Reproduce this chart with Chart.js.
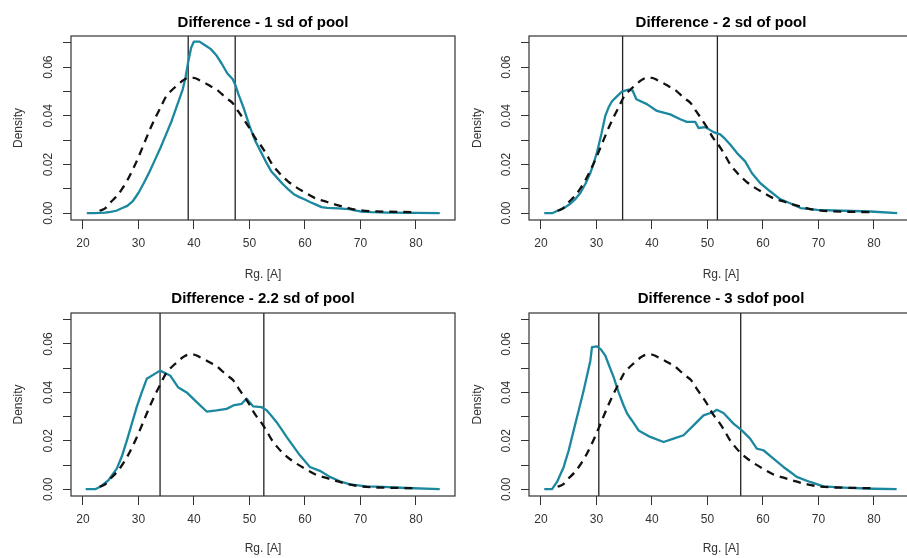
<!DOCTYPE html>
<html>
<head>
<meta charset="utf-8">
<script src="https://cdn.jsdelivr.net/npm/chart.js@4/dist/chart.umd.min.js"></script>
<style>
html,body{margin:0;padding:0;background:#fff;overflow:hidden;}
#wrap{position:relative;width:907px;height:558px;overflow:hidden;background:#fff;}
#wrap canvas{position:absolute;}
</style>
</head>
<body>
<div id="wrap">
<canvas id="c1"></canvas>
<canvas id="c2"></canvas>
<canvas id="c3"></canvas>
<canvas id="c4"></canvas>
</div>
<script>
// ---------- DATA ----------
const titles = ['Difference - 1 sd of pool', 'Difference - 2 sd of pool', 'Difference - 2.2 sd of pool', 'Difference - 3 sdof pool'];
const xAxisLabel = 'Rg. [A]';
const yAxisLabel = 'Density';

const xTickValues = [20, 30, 40, 50, 60, 70, 80];
const xTickLabels = ['20', '30', '40', '50', '60', '70', '80'];
const yTickValues = [0, 0.01, 0.02, 0.03, 0.04, 0.05, 0.06, 0.07];
const yTickLabels = ['0.00', '', '0.02', '', '0.04', '', '0.06', ''];

// pool density (dashed, same in every panel)
const poolX = [23, 24, 25, 26, 27, 28, 29, 30, 31, 32, 33, 34, 35, 36, 37, 38, 39, 40, 41, 42, 43, 44, 45, 46, 47, 48, 49, 50, 51, 52, 53, 54, 55, 56, 57, 58, 60, 62, 64, 66, 68, 70, 72, 75, 80];
const poolY = [0.001, 0.002, 0.0045, 0.0068, 0.0098, 0.0135, 0.018, 0.023, 0.0285, 0.034, 0.039, 0.0435, 0.048, 0.0505, 0.0525, 0.0545, 0.0556, 0.0556, 0.0546, 0.0535, 0.0522, 0.051, 0.049, 0.047, 0.0452, 0.0418, 0.0385, 0.035, 0.031, 0.028, 0.0245, 0.0205, 0.0175, 0.015, 0.013, 0.0113, 0.0085, 0.006, 0.0046, 0.0032, 0.002, 0.0012, 0.0008, 0.0006, 0.0004];

// selected-subset densities (teal)
const sd1X = [20.7, 22, 24, 25, 26, 27, 28, 29, 30, 31, 32, 33, 34, 35, 36, 37, 38, 38.5, 39, 39.5, 40, 41, 42, 43, 44, 45, 46, 47, 47.5, 48, 49, 50, 51, 52, 53, 54, 55, 56, 57, 58, 59, 60, 61, 62, 63, 64, 66, 68, 69, 70, 72, 75, 80, 84.3];
const sd1Y = [0, 0, 0.0002, 0.0005, 0.001, 0.002, 0.003, 0.005, 0.0083, 0.0125, 0.017, 0.022, 0.027, 0.0325, 0.038, 0.0445, 0.051, 0.056, 0.0625, 0.068, 0.0705, 0.0705, 0.069, 0.0675, 0.065, 0.0615, 0.0575, 0.055, 0.0525, 0.049, 0.043, 0.036, 0.030, 0.0255, 0.021, 0.017, 0.0145, 0.012, 0.0098, 0.0078, 0.0066, 0.0056, 0.0045, 0.0035, 0.0025, 0.0022, 0.002, 0.0017, 0.0012, 0.0007, 0.0004, 0.0002, 0.0001, 0];

const sd2X = [20.6, 22, 23.4, 24.4, 25.3, 26.2, 27.1, 28, 28.9, 29.5, 30.1, 30.9, 31.6, 32.2, 32.8, 33.7, 34.6, 35.8, 36.5, 37.2, 39.1, 40.9, 43.3, 45.1, 46.3, 47.8, 48.4, 49.6, 51.1, 52.3, 53.2, 54.1, 55.3, 56.8, 58, 59.5, 61.3, 63.1, 64.9, 66.8, 69.8, 72.8, 79.4, 84.2];
const sd2Y = [0, 0, 0.0014, 0.0025, 0.0039, 0.0058, 0.0083, 0.012, 0.0165, 0.0205, 0.025, 0.0325, 0.040, 0.0435, 0.046, 0.048, 0.050, 0.0508, 0.0505, 0.0468, 0.0448, 0.042, 0.0406, 0.0386, 0.0375, 0.0375, 0.035, 0.0354, 0.0333, 0.0324, 0.0305, 0.0282, 0.0248, 0.0213, 0.0165, 0.0124, 0.009, 0.0058, 0.0041, 0.0021, 0.0014, 0.0011, 0.0007, 0];

const sd22X = [20.5, 22.2, 23.1, 24.6, 26.1, 27, 27.9, 28.8, 29.7, 30.6, 31.5, 33.9, 35.7, 37.2, 38.7, 40.5, 42.3, 44.1, 45.9, 47.1, 48.6, 49.5, 50.7, 52.2, 53.1, 54, 54.9, 55.8, 56.7, 57.9, 59.1, 60.9, 62.7, 64.5, 66.3, 68.1, 71.1, 74.1, 78.3, 84.3];
const sd22Y = [0, 0, 0.001, 0.0037, 0.0085, 0.0135, 0.020, 0.027, 0.034, 0.040, 0.0456, 0.049, 0.047, 0.042, 0.040, 0.036, 0.0321, 0.0326, 0.0332, 0.0346, 0.0353, 0.0374, 0.0342, 0.0339, 0.0326, 0.0302, 0.0277, 0.0247, 0.0216, 0.0178, 0.014, 0.0092, 0.0076, 0.0051, 0.0033, 0.002, 0.0012, 0.001, 0.0005, 0];

const sd3X = [20.6, 22, 22.9, 24.1, 25, 25.9, 26.8, 27.7, 28.9, 29.2, 30.1, 30.8, 31.6, 32.3, 33.1, 34, 34.9, 35.6, 36.4, 37.6, 39.7, 42.1, 43.9, 45.7, 47.5, 49.3, 51.1, 51.7, 52.9, 54.7, 56.2, 57.7, 58.9, 60.1, 61.9, 63.7, 65, 66.1, 68.5, 70.9, 74.5, 79.9, 84.1];
const sd3Y = [0, 0, 0.003, 0.0092, 0.016, 0.0243, 0.0325, 0.0408, 0.053, 0.0587, 0.059, 0.0578, 0.0552, 0.051, 0.0463, 0.040, 0.0346, 0.031, 0.0284, 0.0243, 0.0216, 0.0195, 0.0209, 0.0223, 0.0264, 0.0305, 0.0319, 0.0328, 0.0315, 0.0271, 0.0243, 0.0209, 0.0168, 0.0161, 0.0126, 0.0092, 0.007, 0.0051, 0.003, 0.0012, 0.0007, 0.0002, 0];

// cut-off positions (vertical lines)
const cutLow = [38.97, 34.72, 33.9, 30.43];
const cutHigh = [47.44, 51.8, 52.6, 56.0];

const xRange = [17.85, 87.05];
const yRange = [-0.0028, 0.0728];

// ---------- LAYOUT ----------
const FONT = "'Liberation Sans', Arial, Helvetica, sans-serif";
const TEAL = '#1b88a0';
const series = [[sd1X, sd1Y], [sd2X, sd2Y], [sd22X, sd22Y], [sd3X, sd3Y]];
const panels = [
  {id: 'c1', left: 0,   top: 0,   w: 460, h: 290, a: {l: 71, t: 36, r: 455, b: 220}, tc: 23.3, xtc: 275,   ytc: 19},
  {id: 'c2', left: 450, top: 0,   w: 470, h: 290, a: {l: 79, t: 36, r: 463, b: 220}, tc: 23.3, xtc: 275,   ytc: 27.3},
  {id: 'c3', left: 0,   top: 280, w: 460, h: 278, a: {l: 71, t: 33, r: 455, b: 216}, tc: 19.3, xtc: 269,   ytc: 18.5},
  {id: 'c4', left: 450, top: 280, w: 470, h: 278, a: {l: 79, t: 33, r: 463, b: 216}, tc: 19.3, xtc: 269,   ytc: 27.3}
];

const pts = (xs, ys) => xs.map((x, i) => ({x: x, y: ys[i]}));

const boxPlugin = {
  id: 'rbox',
  afterDatasetsDraw(chart) {
    const {ctx, chartArea: a} = chart;
    ctx.save();
    ctx.strokeStyle = '#333';
    ctx.lineWidth = 1.2;
    ctx.strokeRect(a.left, a.top, a.right - a.left, a.bottom - a.top);
    ctx.restore();
  }
};

panels.forEach((p, k) => {
  const cv = document.getElementById(p.id);
  cv.width = p.w; cv.height = p.h;
  cv.style.left = p.left + 'px'; cv.style.top = p.top + 'px';
  cv.style.width = p.w + 'px'; cv.style.height = p.h + 'px';

  const [sx, sy] = series[k];
  new Chart(cv, {
    type: 'line',
    data: {
      datasets: [
        {data: pts(poolX, poolY), borderColor: '#111', borderWidth: 2.3, borderDash: [8, 6], pointRadius: 0, cubicInterpolationMode: 'monotone', fill: false},
        {data: pts(sx, sy), borderColor: TEAL, borderWidth: 2.3, pointRadius: 0, tension: 0, fill: false, borderJoinStyle: 'round'},
        {data: [{x: cutLow[k], y: yRange[0] - 1}, {x: cutLow[k], y: yRange[1] + 1}], borderColor: '#222', borderWidth: 1.3, pointRadius: 0},
        {data: [{x: cutHigh[k], y: yRange[0] - 1}, {x: cutHigh[k], y: yRange[1] + 1}], borderColor: '#222', borderWidth: 1.3, pointRadius: 0}
      ]
    },
    options: {
      responsive: false,
      devicePixelRatio: 1,
      animation: false,
      events: [],
      layout: {padding: {left: 0, top: 0, right: p.w - p.a.r, bottom: 0}},
      plugins: {
        legend: {display: false},
        tooltip: {enabled: false},
        title: {
          display: true, text: titles[k], fullSize: false, color: '#000',
          font: {family: FONT, size: 15, weight: 'bold', lineHeight: 1.2},
          padding: {top: p.tc - 9, bottom: p.a.t - p.tc - 9}
        }
      },
      scales: {
        x: {
          type: 'linear', min: xRange[0], max: xRange[1], bounds: 'data',
          afterBuildTicks: s => { s.ticks = xTickValues.map(v => ({value: v})); },
          afterFit: s => { s.height = p.h - p.a.b; },
          grid: {display: true, drawOnChartArea: false, drawTicks: true, tickLength: 9, color: '#333', lineWidth: 1},
          border: {display: false},
          ticks: {color: '#333', font: {family: FONT, size: 12}, padding: 7, maxRotation: 0, autoSkip: false,
                  callback: (v, i) => xTickLabels[i]},
          title: {display: true, text: xAxisLabel, color: '#333', font: {family: FONT, size: 12, lineHeight: 1.2},
                  padding: {top: 0, bottom: p.h - p.xtc - 7.2}}
        },
        y: {
          type: 'linear', min: yRange[0], max: yRange[1], bounds: 'data',
          afterBuildTicks: s => { s.ticks = yTickValues.map(v => ({value: v})); },
          afterFit: s => { s.width = p.a.l; },
          grid: {display: true, drawOnChartArea: false, drawTicks: true, tickLength: 8, color: '#333', lineWidth: 1},
          border: {display: false},
          ticks: {color: '#333', font: {family: FONT, size: 12}, padding: 3, minRotation: 90, maxRotation: 90,
                  crossAlign: 'center', autoSkip: false, callback: (v, i) => yTickLabels[i]},
          title: {display: true, text: yAxisLabel, color: '#333', font: {family: FONT, size: 12, lineHeight: 1.2},
                  padding: {top: p.ytc - 7.2, bottom: 0}}
        }
      }
    },
    plugins: [boxPlugin]
  });
});
</script>
</body>
</html>
